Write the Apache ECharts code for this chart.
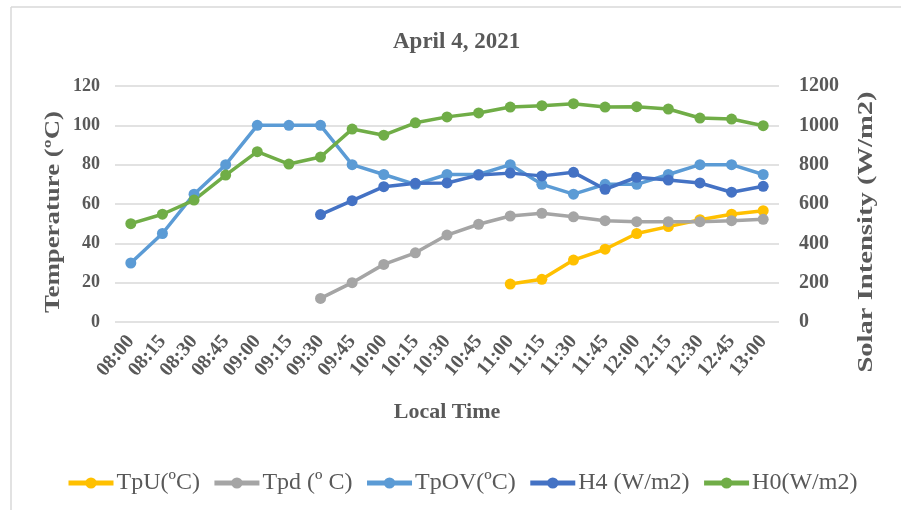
<!DOCTYPE html>
<html>
<head>
    <meta charset="utf-8">
    <title>April 4, 2021</title>
    <script src="https://cdn.jsdelivr.net/npm/echarts@6/dist/echarts.min.js"></script>
    <style>
        html, body { margin: 0; padding: 0; background: #fff; }
        #main { width: 901px; height: 510px; }
    </style>
</head>
<body>
    <div id="main"></div>
    <script>
    // data
    var times = ["08:00", "08:15", "08:30", "08:45", "09:00", "09:15", "09:30", "09:45", "10:00", "10:15", "10:30",
        "10:45", "11:00", "11:15", "11:30", "11:45", "12:00", "12:15", "12:30", "12:45", "13:00"];
    var tpU = [null, null, null, null, null, null, null, null, null, null, null,
        null, 19.3, 21.7, 31.5, 37, 45, 48.5, 52, 54.8, 56.6];
    var tpd = [null, null, null, null, null, null, 12, 20, 29.3, 35.2, 44.2,
        49.7, 53.9, 55.3, 53.5, 51.5, 51, 51, 51, 51.5, 52.2];
    var tpOV = [30, 45, 65, 80, 100, 100, 100, 80, 75, 70, 75,
        75, 80, 70, 65, 70, 70, 75, 80, 80, 75];
    var h4 = [null, null, null, null, null, null, 546, 617, 688, 705, 707,
        747, 757, 743, 761, 675, 736, 722, 707, 660, 690];
    var h0 = [500, 548, 620, 747, 866, 803, 839, 981, 950, 1013, 1043,
        1063, 1093, 1100, 1110, 1093, 1095, 1083, 1037, 1032, 998];
    var names = ["TpU(\u00baC)", "Tpd (\u00ba C)", "TpOV(\u00baC)", "H4 (W/m2)", "H0(W/m2)"];
    var colors = ["#FFC000", "#A5A5A5", "#5B9BD5", "#4472C4", "#70AD47"];

    var txt = "#595959", serif = "'Liberation Serif', 'DejaVu Serif', serif";

    function mkSeries(i, data, yIdx) {
        return {
            name: names[i], type: "line", data: data, yAxisIndex: yIdx,
            symbol: "circle", symbolSize: 11, connectNulls: false,
            lineStyle: { width: 3.5, color: colors[i] },
            itemStyle: { color: colors[i] },
            emphasis: { disabled: true }, animation: false
        };
    }

    var chart = echarts.init(document.getElementById("main"));
    chart.setOption({
        textStyle: { fontFamily: serif },
        title: {
            text: "April 4, 2021", left: 388, top: 26,
            textStyle: { color: txt, fontSize: 23, fontWeight: "bold", fontFamily: serif }
        },
        graphic: [
            { type: "line", shape: { x1: 11, y1: 7, x2: 901, y2: 7 }, style: { stroke: "#D9D9D9", lineWidth: 1.5 } },
            { type: "line", shape: { x1: 11, y1: 7, x2: 11, y2: 510 }, style: { stroke: "#D9D9D9", lineWidth: 1.5 } },
            // axis titles, stretched along the text like the original
            {
                type: "text", x: 53, y: 212, rotation: Math.PI / 2, scaleX: 1.22,
                style: { text: "Temperature (\u00baC)", font: "bold 22px " + serif, fill: txt, align: "center", verticalAlign: "middle" }
            },
            {
                type: "text", x: 866, y: 232, rotation: Math.PI / 2, scaleX: 1.3,
                style: { text: "Solar Intensity (W/m2)", font: "bold 22px " + serif, fill: txt, align: "center", verticalAlign: "middle" }
            }
        ],
        legend: {
            top: 466, left: 61, itemGap: 12, itemWidth: 45, itemHeight: 14,
            lineStyle: { width: 5 },
            textStyle: { color: txt, fontSize: 24, fontFamily: serif, padding: [0, 0, 0, -2] },
            data: names
        },
        grid: { left: 115, right: 122, top: 86, bottom: 188 },
        xAxis: {
            type: "category", data: times, boundaryGap: true,
            name: "Local Time", nameLocation: "middle", nameGap: 79,
            nameTextStyle: { color: txt, fontSize: 22, fontWeight: "bold", fontFamily: serif },
            axisLine: { show: false }, axisTick: { show: false },
            axisLabel: { rotate: 50, color: txt, fontSize: 20, fontWeight: "bold", margin: 16, interval: 0 }
        },
        yAxis: [{
            type: "value", min: 0, max: 120, interval: 20,
            axisLine: { show: false }, axisTick: { show: false },
            axisLabel: { color: txt, fontSize: 18, fontWeight: "bold", margin: 15 },
            splitLine: { lineStyle: { color: "#D9D9D9", width: 1.5 } }
        }, {
            type: "value", min: 0, max: 1200, interval: 200,
            axisLine: { show: false }, axisTick: { show: false },
            axisLabel: { color: txt, fontSize: 20, fontWeight: "bold", margin: 20, formatter: function (v) { return String(v); } },
            splitLine: { show: false }
        }],
        series: [
            mkSeries(0, tpU, 0),
            mkSeries(1, tpd, 0),
            mkSeries(2, tpOV, 0),
            mkSeries(3, h4, 1),
            mkSeries(4, h0, 1)
        ]
    });
    </script>
</body>
</html>
